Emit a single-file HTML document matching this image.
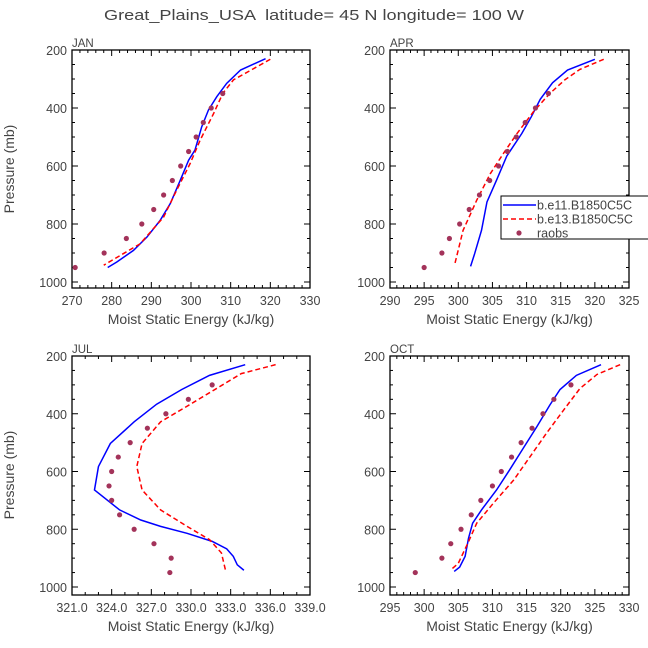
<!DOCTYPE html>
<html><head><meta charset="utf-8"><style>
html,body{margin:0;padding:0;background:#fff;}
svg{display:block;font-family:"Liberation Sans","DejaVu Sans",sans-serif;}
</style></head><body>
<svg id="chart" width="648" height="648" viewBox="0 0 648 648" xmlns="http://www.w3.org/2000/svg">
<text x="314" y="20" text-anchor="middle" font-size="15" fill="#444" style="white-space:pre" xml:space="preserve" textLength="420" lengthAdjust="spacingAndGlyphs">Great_Plains_USA  latitude= 45 N longitude= 100 W</text>
<text x="14" y="169" text-anchor="middle" font-size="14" fill="#444" transform="rotate(-90 14 169)">Pressure (mb)</text>
<text x="14" y="475" text-anchor="middle" font-size="14" fill="#444" transform="rotate(-90 14 475)">Pressure (mb)</text>
</svg>
<script>
// JAN
const janBlueP=[230,269,315,361,407,465,545,580,649,729,788,845,891,931,950];
const janBlueV=[318.8,312.5,309,306.5,304.4,302.7,301,299.4,297.3,294.8,292.2,288.9,285.5,281.3,279];
const janRedP=[232,303,350,419,511,591,683,776,868,942];
const janRedV=[320,310.7,308,305.7,302.3,299.8,296.4,293.1,287.2,278];
const janObsP=[950,900,850,800,750,700,650,600,550,500,450,400,350];
const janObsV=[270.8,278.1,283.7,287.6,290.6,293.1,295.3,297.4,299.4,301.3,303.1,305.1,308];
const janTicks=[270,280,290,300,310,320,330];
// APR
const aprBlueP=[232,269,313,370,430,488,566,649,724,822,902,946];
const aprBlueV=[320,316,313.8,312,310.7,309.3,307.1,305.6,304.2,303.4,302.4,301.8];
const aprRedP=[232,267,303,350,413,488,557,626,718,822,937];
const aprRedV=[321.3,317.8,315.6,313.4,311,308.6,306.6,304.7,302.7,300.7,299.5];
const aprObsP=[950,900,850,800,750,700,650,600,550,500,450,400,350];
const aprObsV=[295,297.6,298.7,300.2,301.6,303.1,304.6,305.9,307.2,308.5,309.8,311.3,313.2];
const aprTicks=[290,295,300,305,310,315,320,325];
// JUL
const julBlueP=[230,267,316,367,428,503,583,664,733,768,790,814,842,868,894,923,942];
const julBlueV=[334.1,331.4,329.3,327.4,325.7,323.9,323,322.7,324.6,326.2,327.7,329.7,331.6,332.7,333.2,333.5,334];
const julRedP=[230,261,319,374,428,503,583,664,733,790,836,882,940];
const julRedV=[336.4,333.8,331.7,329.7,327.7,326.3,325.9,326.3,327.7,329.7,331.4,332.3,332.6];
const julObsP=[300,350,400,450,500,550,600,650,700,750,800,850,900,950];
const julObsV=[331.6,329.8,328.1,326.7,325.4,324.5,324,323.8,324,324.6,325.7,327.2,328.5,328.4];
const julTicks=[321,324,327,330,333,336,339];
// OCT
const octBlueP=[230,267,316,370,445,520,595,664,733,779,831,894,931,946];
const octBlueV=[325.9,322.3,319.9,318.4,316.5,314.5,312.5,310.6,308.4,307.1,306.5,306,305.2,304.4];
const octRedP=[230,264,313,388,468,549,630,711,779,843,918,941];
const octRedV=[328.7,325.3,322.8,320.4,317.9,315.5,313.1,310.1,307.7,306.5,305,303.9];
const octObsP=[300,350,400,450,500,550,600,650,700,750,800,850,900,950];
const octObsV=[321.5,319,317.4,315.8,314.2,312.8,311.3,310,308.3,306.9,305.4,303.9,302.6,298.7];
const octTicks=[295,300,305,310,315,320,325,330];
const yTicks=[200,400,600,800,1000];

const NS='http://www.w3.org/2000/svg';
const svg=document.getElementById('chart');
function mk(tag,attrs,parent){const e=document.createElementNS(NS,tag);for(const k in attrs)e.setAttribute(k,attrs[k]);(parent||svg).appendChild(e);return e;}

function panel(name,label,L,R,T,B0,B,xt,minorStep,dec,bp,bv,rp,rv,op,ov){
  const g=mk('g',{});
  
  
  const x0=xt[0],x1=xt[xt.length-1];
  const xs=v=>L+(v-x0)/(x1-x0)*(R-L);
  const ys=p=>T+(p-200)/800*(B0-T);
  const frame=mk('rect',{x:L,y:T,width:R-L,height:B-T,fill:'none',stroke:'#000','stroke-width':1.3},g);
  
  
  for(let v=x0;v<=x1+1e-6;v+=minorStep){
    const x=xs(v);const major=xt.some(t=>Math.abs(t-v)<1e-6);const len=major?6:3;
    mk('line',{x1:x,y1:B,x2:x,y2:B-len,stroke:'#000','stroke-width':1},g);
    mk('line',{x1:x,y1:T,x2:x,y2:T+len,stroke:'#000','stroke-width':1},g);
  }
  xt.forEach(v=>{
    const t=mk('text',{x:xs(v),y:B+17,'text-anchor':'middle','font-size':12.5,fill:'#444'},g);
    t.textContent=v.toFixed(dec);
    
    
  });
  for(let p=200;p<=1000;p+=50){
    const y=ys(p);const major=p%200===0;const len=major?6:3;
    mk('line',{x1:L,y1:y,x2:L+len,y2:y,stroke:'#000','stroke-width':1},g);
    mk('line',{x1:R,y1:y,x2:R-len,y2:y,stroke:'#000','stroke-width':1},g);
  }
  yTicks.forEach(p=>{
    const t=mk('text',{x:L-5,y:ys(p)+5,'text-anchor':'end','font-size':12.5,fill:'#444'},g);
    t.textContent=p;
    
    
  });
  const lb=mk('text',{x:L,y:T-3,'font-size':11.5,fill:'#444'},g);
  lb.textContent=label;
  
  
  const xtit=mk('text',{x:(L+R)/2,y:B+36,'text-anchor':'middle','font-size':14,fill:'#444'},g);
  xtit.textContent='Moist Static Energy (kJ/kg)';
  
  
  const bl=mk('polyline',{points:bp.map((p,i)=>xs(bv[i])+','+ys(p)).join(' '),fill:'none',stroke:'#0000ff','stroke-width':1.5},g);
  
  
  const rl=mk('polyline',{points:rp.map((p,i)=>xs(rv[i])+','+ys(p)).join(' '),fill:'none',stroke:'#ff0000','stroke-width':1.5,'stroke-dasharray':'5,3'},g);
  
  
  op.forEach((p,i)=>{
    const c=mk('circle',{cx:xs(ov[i]),cy:ys(p),r:2.6,fill:'#a3335a'},g);
    
    
  });
}
panel('jan','JAN',72,310,50,282,288,janTicks,2,0,janBlueP,janBlueV,janRedP,janRedV,janObsP,janObsV);
panel('apr','APR',390,629,50,282,288,aprTicks,1,0,aprBlueP,aprBlueV,aprRedP,aprRedV,aprObsP,aprObsV);
panel('jul','JUL',72,310,356,587,595,julTicks,1,1,julBlueP,julBlueV,julRedP,julRedV,julObsP,julObsV);
panel('oct','OCT',390,629,356,587,595,octTicks,1,0,octBlueP,octBlueV,octRedP,octRedV,octObsP,octObsV);

const lg=mk('g',{});


mk('rect',{x:501,y:196,width:150,height:43,fill:'#fff',stroke:'#000','stroke-width':1},lg);
const entries=[['b.e11.B1850C5C','blue'],['b.e13.B1850C5C','red'],['raobs','dot']];
entries.forEach((e,i)=>{
  const y=205+i*14;
  const eg=mk('g',{},lg);
  
  
  if(e[1]==='blue')mk('line',{x1:503,y1:y,x2:536,y2:y,stroke:'#0000ff','stroke-width':1.5},eg);
  else if(e[1]==='red')mk('line',{x1:503,y1:y,x2:536,y2:y,stroke:'#ff0000','stroke-width':1.5,'stroke-dasharray':'5,3'},eg);
  else mk('circle',{cx:519,cy:y,r:2.6,fill:'#a3335a'},eg);
  const t=mk('text',{x:537,y:y+4.5,'font-size':12.5,fill:'#444'},eg);
  t.textContent=e[0];
});
</script>
</body></html>
